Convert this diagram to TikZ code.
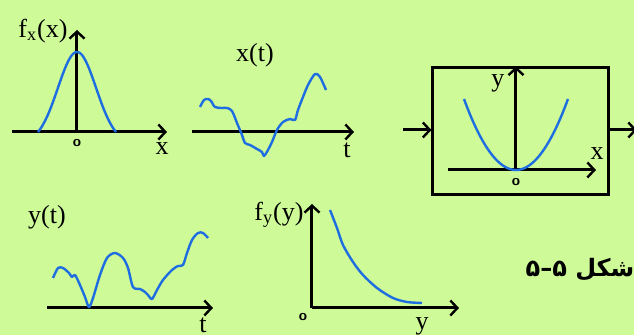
\documentclass[tikz,border=0pt]{standalone}
\usepackage{fontspec}
\setmainfont{Liberation Serif}
\newfontfamily\persianfont[Script=Arabic]{DejaVu Sans}
\TeXXeTstate=1
\usetikzlibrary{arrows.meta}
\definecolor{palegreen}{RGB}{206,250,152}
\definecolor{curveblue}{RGB}{30,110,225}

\begin{document}
\begin{tikzpicture}[x=0.5pt, y=-0.5pt,
        axis/.style={line width=1.5pt, -{Straight Barb[length=3.5pt,width=7.5pt,line width=1.2pt]}},
        arr/.style={axis},
        curve/.style={curveblue, line width=1.2pt, line join=round},
        lbl/.style={inner sep=0pt, font=\fontsize{13}{15}\selectfont},
        orig/.style={inner sep=0pt, font=\fontsize{7.5}{8}\sffamily\bfseries},
        sysbox/.style={draw, line width=1.5pt, minimum width=88pt, minimum height=63.5pt, inner sep=0pt}
    ]
    \fill[palegreen] (0,0) rectangle (634,335);
    \useasboundingbox (0,0) rectangle (634,335);

    % f_x(x)
    \coordinate (fxo) at (77,132);
    \draw[axis] (12,132) -- (167,132);
    \draw[axis] (fxo) -- (77,30);
    \draw[curve] plot[domain=38:116, samples=70] (\x, {132-80*(exp(-((\x-77)/27)^2)-0.124)/0.876});
    \node[lbl] (fxlab) at (43,31) {f\textsubscript{x}(x)};
    \node[lbl] (fxax) at (162,149) {x};
    \node[orig] (fx0) at (77,143) {o};

    % x(t)
    \draw[axis] (192,132) -- (354,132);
    \draw[curve] plot[smooth, tension=0.5] coordinates {
        (200,107) (204,100) (208,99) (211,101) (215,107) (222,108) (227,108)
        (232,111) (237,123) (242,135) (245,143) (250,145) (257,149) (262,152)
        (264,156) (268,150) (272,142) (277,130) (283,122) (290,119) (295,120)
        (298,110) (303,97) (308,85) (315,74) (320,77) (326,90)};
    \node[lbl] (xtlab) at (255,55) {x(t)};
    \node[lbl] (xtax) at (347,150) {t};

    % system
    \node[sysbox] (sys) at (521,131.5) {};
    \coordinate (sin) at (403,130);
    \coordinate (sout) at (637,130);
    \draw[arr] (sin) -- (sin -| sys.west);
    \draw[arr] (sout -| sys.east) -- (sout);
    \draw[axis] (448,170) -- (596,170);
    \draw[axis] (516,170) -- (sys.north -| 516,0);
    \draw[curve] plot[domain=464:568, samples=60] (\x, {170-0.02626*(\x-516)^2});
    \node[lbl] (syy) at (498,83) {y};
    \node[lbl] (syx) at (597,154) {x};
    \node[orig] (sy0) at (516,182) {o};

    % y(t)
    \draw[axis] (47,308) -- (213,308);
    \draw[curve] plot[smooth, tension=0.5] coordinates {
        (53,278) (58,268) (63,268) (69,273) (72,277) (75,275) (80,285)
        (85,297) (89,307) (93,298) (100,275) (107,258) (115,253) (123,258)
        (128,268) (133,287) (140,289) (145,292) (148,295) (152,299) (157,290)
        (163,280) (172,270) (178,266) (183,265) (187,253) (192,240) (198,233)
        (203,233) (208,238)};
    \node[lbl] (ytlab) at (47,217) {y(t)};
    \node[lbl] (ytax) at (203,325) {t};

    % f_y(y)
    \coordinate (fyo) at (312,308);
    \draw[axis] (fyo) -- (459,308);
    \draw[axis] (fyo) -- (312,204);
    \draw[curve] plot[smooth] coordinates {
        (330,210) (337,228) (343,245) (353,262) (363,275) (377,288)
        (393,298) (407,302) (422,303)};
    \node[lbl] (fylab) at (279,215) {f\textsubscript{y}(y)};
    \node[lbl] (fyax) at (422,326) {y};
    \node[orig] (fy0) at (303,317) {o};

    % caption
    \node[inner sep=0pt, font=\persianfont\bfseries\fontsize{12}{14}\selectfont] (cap) at (580,270) {\beginR شکل ۵–۵\endR};
\end{tikzpicture}
\end{document}
